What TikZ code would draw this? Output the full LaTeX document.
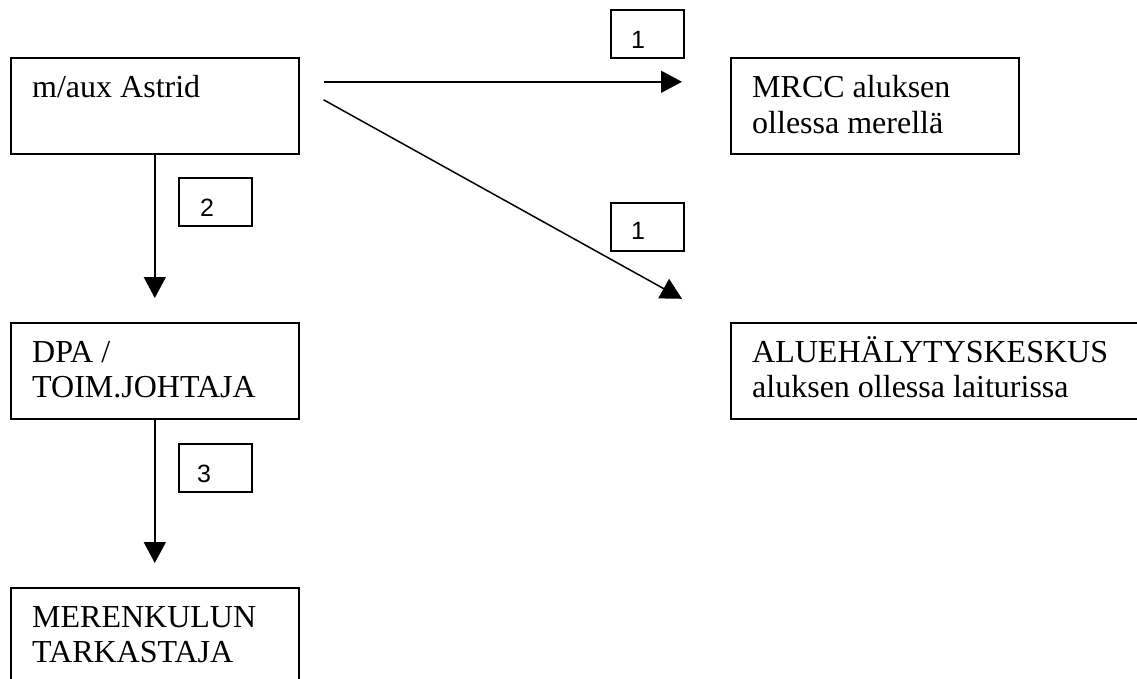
\documentclass[tikz,border=0pt]{standalone}
\usepackage{fontspec}
\setmainfont{Liberation Serif}
\newfontfamily\numfont{Liberation Sans}
\usetikzlibrary{arrows.meta}
\newcommand\twolines[2]{\vtop{\hbox{#1}\hbox{#2}}}
\begin{document}
\begin{tikzpicture}[x=1pt,y=-1pt,
  box/.style={draw, line width=1.6pt, anchor=north west, inner sep=0pt, minimum width=288pt, minimum height=96pt},
  numbox/.style={draw, line width=1.6pt, anchor=north west, inner sep=0pt, minimum width=73pt, minimum height=48pt},
  txt/.style={anchor=base west, inner sep=0pt, font=\fontsize{32}{35.5}\selectfont},
  num/.style={anchor=base, inner sep=0pt, font=\numfont\fontsize{25}{28}\selectfont},
  arr/.style={line width=1.5pt, -{Triangle[length=21pt,width=22pt]}}]
\useasboundingbox (0,0) rectangle (1137,679);
\clip (0,0) rectangle (1137,679);
% boxes
\node[box] (astrid) at (10,57) {};
\node[box] (mrcc) at (730,57) {};
\node[box] (dpa) at (10,322) {};
\node[box, minimum width=420pt] (alue) at (730,322) {};
\node[box] (meren) at (10,587) {};
% texts
\node[txt] (tastrid) at (32,98) {m/aux Astrid};
\node[txt] (tmrcc) at (752,98) {\twolines{MRCC aluksen}{ollessa merellä}};
\node[txt] (tdpa) at (32,362) {\twolines{DPA /}{TOIM.JOHTAJA}};
\node[txt] (talue) at (752,362) {\twolines{ALUEHÄLYTYSKESKUS}{aluksen ollessa laiturissa}};
\node[txt] (tmeren) at (32,627) {\twolines{MERENKULUN}{TARKASTAJA}};
% number boxes
\node[numbox] (n1a) at (610,9) {};
\node[numbox] (n1b) at (610,202) {};
\node[numbox] (n2) at (178,177) {};
\node[numbox] (n3) at (178,443) {};
\node[num] (d1a) at (638,49) {1};
\node[num] (d1b) at (638,239) {1};
\node[num] (d2) at (207,216) {2};
\node[num] (d3) at (204,482) {3};
% connectors
\draw[arr] ([shift={(24,-24)}]astrid.east) -- ([shift={(-48,-24)}]mrcc.west);
\draw[arr] ([shift={(24,-6)}]astrid.east) -- ([shift={(-48,-72)}]alue.west);
\draw[arr] (astrid.south) -- ([shift={(0,-24)}]dpa.north);
\draw[arr] (dpa.south) -- ([shift={(0,-24)}]meren.north);
\end{tikzpicture}
\end{document}
